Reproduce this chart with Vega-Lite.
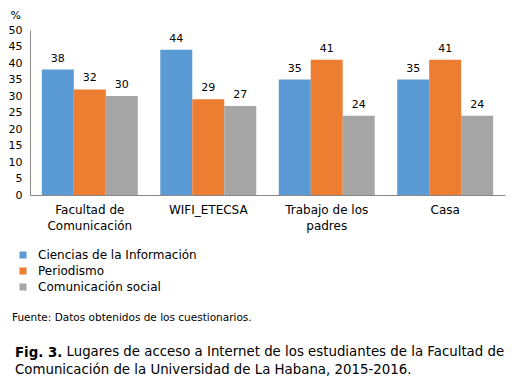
{
  "$schema": "https://vega.github.io/schema/vega-lite/v6.json",
  "autosize": "none",
  "width": 475,
  "height": 165,
  "padding": {"left": 30, "top": 30, "right": 7, "bottom": 195},
  "background": "white",
  "config": {"font": "DejaVu Sans", "view": {"stroke": null}},
  "title": {
    "text": "Fig. 3.",
    "subtitle": "Comunicación de la Universidad de La Habana, 2015-2016.",
    "orient": "bottom",
    "anchor": "start",
    "frame": "group",
    "dx": -15,
    "offset": -11,
    "fontSize": 13.33,
    "fontWeight": "bold",
    "color": "#000000",
    "subtitleFontSize": 13.33,
    "subtitleColor": "#000000",
    "subtitlePadding": 3
  },
  "data": {
    "values": [
      {"lugar": "Facultad de Comunicación", "carrera": "Ciencias de la Información", "valor": 38},
      {"lugar": "Facultad de Comunicación", "carrera": "Periodismo", "valor": 32},
      {"lugar": "Facultad de Comunicación", "carrera": "Comunicación social", "valor": 30},
      {"lugar": "WIFI_ETECSA", "carrera": "Ciencias de la Información", "valor": 44},
      {"lugar": "WIFI_ETECSA", "carrera": "Periodismo", "valor": 29},
      {"lugar": "WIFI_ETECSA", "carrera": "Comunicación social", "valor": 27},
      {"lugar": "Trabajo de los padres", "carrera": "Ciencias de la Información", "valor": 35},
      {"lugar": "Trabajo de los padres", "carrera": "Periodismo", "valor": 41},
      {"lugar": "Trabajo de los padres", "carrera": "Comunicación social", "valor": 24},
      {"lugar": "Casa", "carrera": "Ciencias de la Información", "valor": 35},
      {"lugar": "Casa", "carrera": "Periodismo", "valor": 41},
      {"lugar": "Casa", "carrera": "Comunicación social", "valor": 24}
    ]
  },
  "encoding": {
    "x": {
      "field": "lugar",
      "type": "nominal",
      "sort": ["Facultad de Comunicación", "WIFI_ETECSA", "Trabajo de los padres", "Casa"],
      "scale": {"paddingInner": 0.19, "paddingOuter": 0.1},
      "axis": {
        "title": "Lugares de acceso a Internet de los estudiantes de la Facultad de",
        "titleX": 36,
        "titleY": 156,
        "titleAlign": "left",
        "titleBaseline": "middle",
        "titleFontWeight": "normal",
        "titleFontSize": 13.33,
        "titleColor": "#000000",
        "labelAngle": 0,
        "labelFontSize": 12,
        "labelColor": "#000000",
        "labelPadding": 9,
        "labelLineHeight": 16,
        "labelExpr": "datum.label == 'Facultad de Comunicación' ? ['Facultad de', 'Comunicación'] : datum.label == 'Trabajo de los padres' ? ['Trabajo de los', 'padres'] : datum.label",
        "ticks": false,
        "domainColor": "#888888",
        "grid": false
      }
    },
    "xOffset": {
      "field": "carrera",
      "type": "nominal",
      "sort": ["Ciencias de la Información", "Periodismo", "Comunicación social"],
      "scale": {"paddingInner": 0, "paddingOuter": 0}
    },
    "y": {
      "field": "valor",
      "type": "quantitative",
      "scale": {"domain": [0, 50], "nice": false},
      "axis": {
        "values": [0, 5, 10, 15, 20, 25, 30, 35, 40, 45, 50],
        "title": "%",
        "titleAngle": 0,
        "titleX": -20,
        "titleY": -15,
        "titleAlign": "left",
        "titleBaseline": "middle",
        "titleFontWeight": "normal",
        "titleFontSize": 11,
        "titleColor": "#000000",
        "labelFontSize": 11,
        "labelColor": "#000000",
        "labelPadding": 8,
        "ticks": false,
        "grid": false,
        "domainColor": "#888888"
      }
    }
  },
  "layer": [
    {
      "mark": {"type": "bar"},
      "encoding": {
        "color": {
          "field": "carrera",
          "type": "nominal",
          "sort": ["Ciencias de la Información", "Periodismo", "Comunicación social"],
          "scale": {"domain": ["Ciencias de la Información", "Periodismo", "Comunicación social"], "range": ["#5B9BD5", "#ED7D31", "#A5A5A5"]},
          "legend": {
            "title": "Fuente: Datos obtenidos de los cuestionarios.",
            "titleOrient": "bottom",
            "titleAnchor": "start",
            "titleAlign": "left",
            "titleFontSize": 10.5,
            "titleFontWeight": "normal",
            "titleColor": "#000000",
            "titlePadding": 20,
            "titleLimit": 400,
            "orient": "none",
            "legendX": -18,
            "legendY": 219,
            "symbolType": "square",
            "symbolSize": 49,
            "symbolStrokeWidth": 0,
            "symbolOffset": 5,
            "labelFontSize": 12,
            "labelColor": "#000000",
            "labelOffset": 9,
            "rowPadding": 4,
            "padding": 0
          }
        }
      }
    },
    {
      "mark": {"type": "text", "baseline": "alphabetic", "dy": -8, "fontSize": 11, "color": "#000000"},
      "encoding": {
        "text": {"field": "valor", "type": "quantitative"}
      }
    }
  ]
}
